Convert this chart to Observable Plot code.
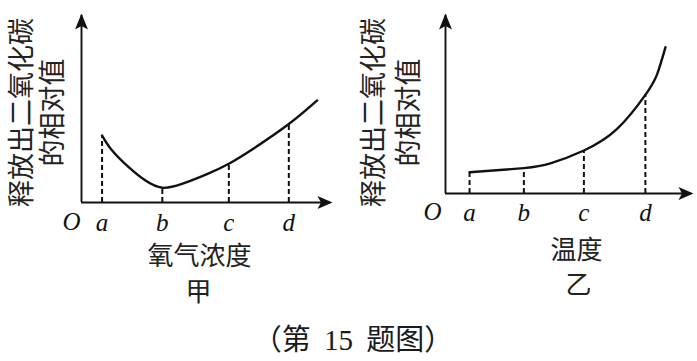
<!DOCTYPE html>
<html>
<head>
<meta charset="utf-8">
<script src="https://cdn.jsdelivr.net/npm/d3@7"></script>
<script src="https://cdn.jsdelivr.net/npm/@observablehq/plot@0.6"></script>
<style>
  html, body { margin: 0; padding: 0; background: #fff; }
  #wrap { position: relative; width: 697px; height: 361px; overflow: hidden; background: #fff; }
  #left { position: absolute; left: 0; top: 0; }
  #right { position: absolute; left: 350px; top: 0; }
  #caption { position: absolute; left: 353px; top: 322px; transform: translateX(-50%);
    font-family: "Liberation Serif", "Noto Sans CJK SC", serif; font-size: 29px; line-height: 36px;
    word-spacing: 6px; color: #1a1a1a; white-space: nowrap; }
</style>
</head>
<body>
<div id="wrap">
  <div id="left"></div>
  <div id="right"></div>
  <div id="caption">（第 15 题图）</div>
</div>
<script>
// ---- data ----
const tickLabels = ["a", "b", "c", "d"];

// 甲: oxygen concentration
const leftTickX = [8.2, 32.2, 58.7, 82.6];
const leftTickY = [35.4, 7.8, 20.5, 41.5];
const leftCurveX = [8.2, 12.2, 18.8, 25.5, 32.2, 40.0, 50.0, 58.7, 68.6, 82.6, 93.9];
const leftCurveY = [35.4, 27.5, 18.7, 11.6, 7.8, 9.8, 15.0, 20.5, 28.6, 41.5, 54.0];

// 乙: temperature
const rightTickX = [9.7, 31.6, 55.8, 80.6];
const rightTickY = [11.8, 14.1, 23.9, 54.8];
const rightCurveX = [9.7, 31.6, 42.3, 55.8, 69.2, 80.6, 85.4, 88.7];
const rightCurveY = [11.8, 14.1, 16.7, 23.9, 35.9, 54.8, 66.5, 81.3];

const yTitle = "释放出二氧化碳\n的相对值";
const leftXTitle = "氧气浓度";
const rightXTitle = "温度";
const leftName = "甲";
const rightName = "乙";
const originLabel = "O";

// ---- styling ----
const ink = "#111";
const cjk = "Noto Sans CJK SC";
const serif = "Liberation Serif";

const arrowRight = {draw(ctx) { ctx.moveTo(0, 0); ctx.lineTo(-15, -6.5); ctx.lineTo(-11.5, 0); ctx.lineTo(-15, 6.5); ctx.closePath(); }};
const arrowUp = {draw(ctx) { ctx.moveTo(0, 0); ctx.lineTo(-6.5, 16); ctx.lineTo(0, 12.5); ctx.lineTo(6.5, 16); ctx.closePath(); }};

function panel(cfg) {
  const curve = cfg.cx.map((x, i) => ({x, y: cfg.cy[i]}));
  const ticks = cfg.tx.map((x, i) => ({x, y: cfg.ty[i], label: tickLabels[i]}));
  return Plot.plot({
    width: cfg.width, height: 322,
    marginLeft: cfg.ml, marginRight: cfg.mr, marginTop: 13, marginBottom: cfg.mb,
    x: {domain: [0, 100], axis: null},
    y: {domain: [0, 100], axis: null},
    style: {background: "transparent", overflow: "visible"},
    marks: [
      Plot.ruleX(ticks, {x: "x", y1: 0, y2: "y", stroke: ink, strokeWidth: 2, strokeDasharray: "5,3"}),
      Plot.ruleY([0], {x1: 0, x2: 99, stroke: ink, strokeWidth: 1.9}),
      Plot.ruleX([0], {y1: 0, y2: 99, stroke: ink, strokeWidth: 1.9}),
      Plot.dot([0], {x: 100, y: 0, symbol: arrowRight, fill: ink, stroke: "none"}),
      Plot.dot([0], {x: 0, y: 100, symbol: arrowUp, fill: ink, stroke: "none"}),
      Plot.line(curve, {x: "x", y: "y", curve: "natural", stroke: ink, strokeWidth: 2.4}),
      Plot.text(ticks, {x: "x", y: 0, text: "label", dy: cfg.labelDy, lineAnchor: "bottom",
        fontFamily: serif, fontStyle: "italic", fontSize: 25, fill: ink}),
      Plot.text([originLabel], {x: 0, y: 0, text: d => d, dx: cfg.oDx, dy: cfg.labelDy - 1, lineAnchor: "bottom",
        fontFamily: serif, fontStyle: "italic", fontSize: 25, fill: ink}),
      Plot.text([cfg.xTitle], {frameAnchor: "bottom", text: d => d, dx: cfg.titleDx, dy: cfg.titleDy,
        lineAnchor: "middle", fontFamily: cjk, fontSize: 26, fill: "#222"}),
      Plot.text([cfg.name], {frameAnchor: "bottom", text: d => d, dx: cfg.nameDx, dy: cfg.nameDy,
        lineAnchor: "middle", fontFamily: cjk, fontSize: 26, fill: "#222"}),
      Plot.text([yTitle], {frameAnchor: "left", textAnchor: "middle", text: d => d, rotate: -90, dx: cfg.yDx, dy: cfg.yDy,
        lineAnchor: "middle", lineHeight: cfg.lh, fontFamily: cjk, fontSize: 27, fill: "#222"})
    ]
  });
}

document.getElementById("left").appendChild(panel({
  width: 345, ml: 81, mr: 13, mb: 120,
  cx: leftCurveX, cy: leftCurveY, tx: leftTickX, ty: leftTickY,
  labelDy: 28, oDx: -10, xTitle: leftXTitle, titleDx: -7.5, titleDy: 54,
  name: leftName, nameDx: -8.5, nameDy: 90, yDx: -45, yDy: 4.5, lh: 1.17
}));
document.getElementById("right").appendChild(panel({
  width: 347, ml: 95, mr: 4, mb: 129,
  cx: rightCurveX, cy: rightCurveY, tx: rightTickX, ty: rightTickY,
  labelDy: 27, oDx: -13, xTitle: rightXTitle, titleDx: 7, titleDy: 57,
  name: rightName, nameDx: 9, nameDy: 92, yDx: -56, yDy: 9, lh: 1.3
}));
</script>
</body>
</html>
